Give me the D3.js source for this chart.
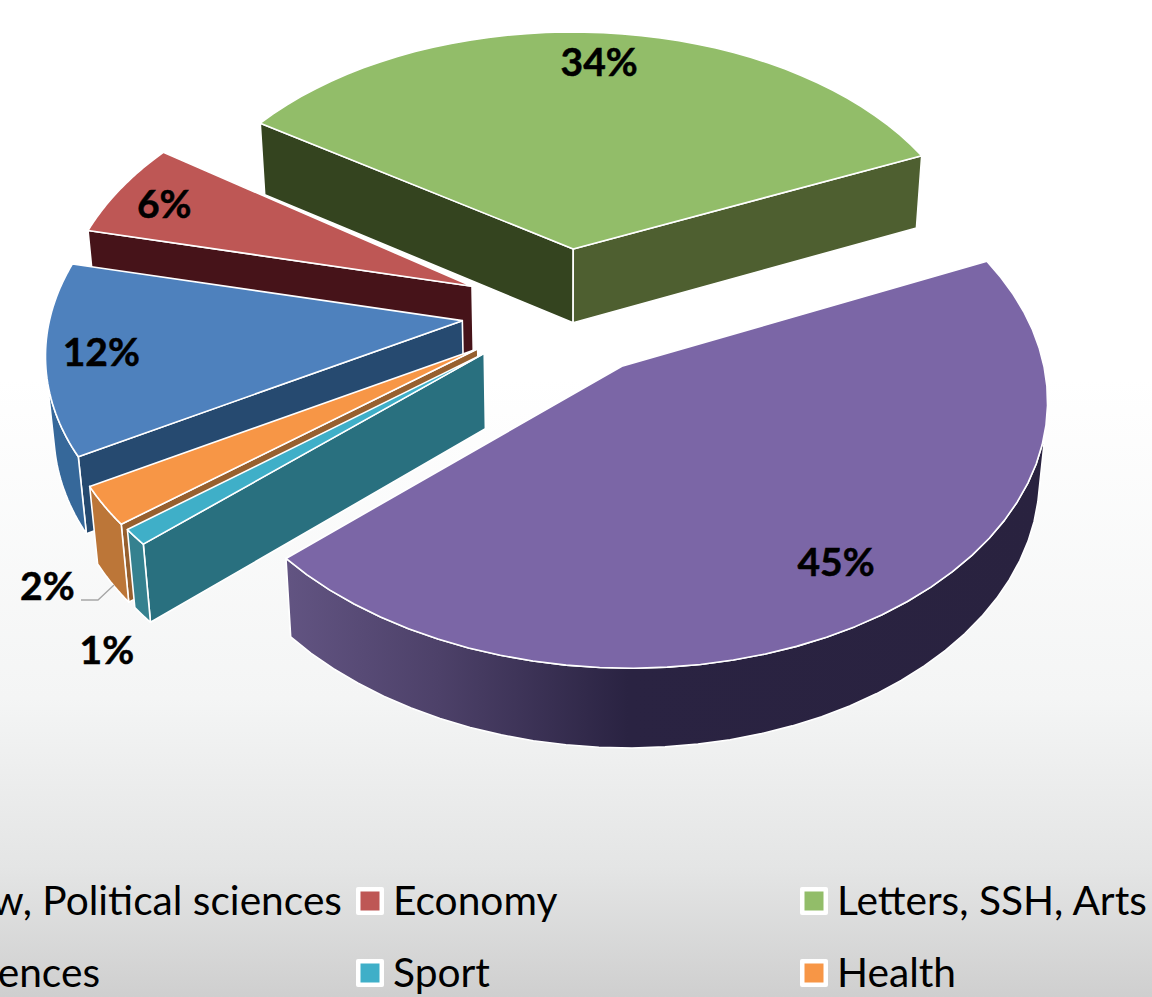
<!DOCTYPE html>
<html><head><meta charset="utf-8">
<style>html,body{margin:0;padding:0;background:#fff;overflow:hidden}svg{display:block}text{font-family:Lato,"Open Sans",sans-serif}</style>
<script src="https://cdn.jsdelivr.net/npm/d3@7/dist/d3.min.js"></script>
</head><body><svg id="c" width="1152" height="997"></svg>
<script>
const categories=["Law, Political sciences","Economy","Letters, SSH, Arts","Sciences","Sport","Health"];
const values=[12,6,34,45,1,2];
const labels=["12%","6%","34%","45%","1%","2%"];
const explosions=[0.245,0.245,0.225,0.285,0.235,0.235];
const topColors=["#4E81BD","#BE5755","#92BD69","#7B66A6","#3FAFC8","#F79646"];
const rimColors=["#36689A","#461319","#4E5F30","url(#rimPurple)","#35818F","#BC7638"];
const startCutColors=["#264A70","#461319","#34441F","#29223F","#29707F","#97602F"];
const endCutColors=["#264A70","#461319","#4E5F30","#29223F","#29707F","#97602F"];
const labelRadius=[0.89,0.82,0.87,0.86,1.43,1.38];
const labelTurn=[0,0,0,0,-9.6,-5];
const labelShiftX=[8,-12,4,-15,67,63];
const labelShiftY=[-2,0,6,-14,-21,-10];
const sliceTurn=[1.3,1.5,0.3,0,0,0];
const sliceSpread=[0,0,0,0.6,0,1.6];
const sliceRadius=[1,1,0.992,1,1,1];
const sliceShiftX=[-1,1,3,-7,-4,-5];
const sliceShiftY=[6,6,0.5,0,10,10];
const drawOrder=[2,1,0,5,4,3];
const legendRows=[0,0,0,1,1,1];
const legendColumns=[0,1,2,0,1,2];

const svg=d3.select("#c"), W=1152, H=997;
const defs=svg.append("defs");
const bg=defs.append("linearGradient").attr("id","bg").attr("x1",0).attr("y1",0).attr("x2",0).attr("y2",1);
[[0,"#ffffff"],[0.38,"#ffffff"],[0.7,"#f4f5f5"],[0.87,"#e4e5e5"],[1,"#cfcfcf"]].forEach(s=>bg.append("stop").attr("offset",s[0]).attr("stop-color",s[1]));
const rg=defs.append("linearGradient").attr("id","rimPurple").attr("x1",0).attr("y1",0).attr("x2",1).attr("y2",0);
[[0,"#625482"],[0.2,"#4D4169"],[0.45,"#2A2342"],[1,"#29223F"]].forEach(s=>rg.append("stop").attr("offset",s[0]).attr("stop-color",s[1]));
svg.append("rect").attr("width",W).attr("height",H).attr("fill","url(#bg)");

// Perspective plane: X to the right, Y toward the viewer, Z downward (all in pie radii / thickness units)
const cam={cx:563,cy:304,f:411,g:254,k:0.11,m:0.016,d:76};
function project(X,Y,Z){const w=1/(1-cam.k*Y+cam.m*Z);return [cam.cx+cam.f*X*w,cam.cy+(cam.g*Y+cam.d*Z)*w];}
const startDeg=238.6, rad=Math.PI/180;
const arcs=d3.pie().sort(null).startAngle(startDeg*rad).endAngle((startDeg+360)*rad)(values);
const poly=d3.line();
const area=p=>d3.polygonArea(p);
drawOrder.forEach(i=>{
  const g=svg.append("g").attr("transform",`translate(${sliceShiftX[i]},${sliceShiftY[i]})`);
  const a=arcs[i], mid=(a.startAngle+a.endAngle)/2, e=explosions[i], R=sliceRadius[i];
  const a0=a.startAngle+sliceTurn[i]*rad, a1=a.endAngle+(sliceTurn[i]+sliceSpread[i])*rad;
  const ox=e*Math.sin(mid), oy=-e*Math.cos(mid);
  const rimPt=(t,z)=>project(ox+R*Math.sin(t),oy-R*Math.cos(t),z);
  const apex=z=>project(ox,oy,z);
  const ts=d3.range(0,41).map(j=>a0+(a1-a0)*j/40);
  const face=(pts,fill)=>g.append("path").attr("d",poly(pts)+"Z").attr("fill",fill).attr("stroke","#fff").attr("stroke-width",1.6).attr("stroke-linejoin","round");
  // cut faces – only if they turn toward the viewer
  const s=[apex(0),rimPt(a0,0),rimPt(a0,1),apex(1)];
  const t=[rimPt(a1,0),apex(0),apex(1),rimPt(a1,1)];
  if(area(s)>0) face(s,startCutColors[i]);
  if(area(t)>0) face(t,endCutColors[i]);
  // rim – segments whose outer surface is visible
  const vis=[];
  for(let j=0;j<40;j++){
    const q=[rimPt(ts[j],0),rimPt(ts[j+1],0),rimPt(ts[j+1],1),rimPt(ts[j],1)];
    if(area(q)>0){ if(!vis.length) vis.push(ts[j]); vis.push(ts[j+1]); }
  }
  if(vis.length){ face(vis.map(v=>rimPt(v,0)).concat(vis.slice().reverse().map(v=>rimPt(v,1))),rimColors[i]); }
  face([apex(0)].concat(ts.map(v=>rimPt(v,0))),topColors[i]);
});
// data labels
arcs.forEach((a,i)=>{
  const mid=(a.startAngle+a.endAngle)/2,e=explosions[i],r=labelRadius[i],lt=mid+labelTurn[i]*rad;
  const p=project(e*Math.sin(mid)+r*Math.sin(lt),-e*Math.cos(mid)-r*Math.cos(lt),0);
  svg.append("text").attr("x",p[0]+labelShiftX[i]).attr("y",p[1]+labelShiftY[i]).attr("dy","0.35em").attr("text-anchor","middle")
    .attr("font-size",39).attr("font-weight",700).attr("fill","#000").attr("stroke","#000").attr("stroke-width",0.5).text(labels[i]);
});
// leader line of the "2%" label
svg.append("path").attr("d",poly([[81,600],[98,600],[114,585]])).attr("fill","none").attr("stroke","#a6a6a6").attr("stroke-width",1.3);
// legend
const colText=[342,393,837];
const yRow=d3.scalePoint().domain([0,1]).range([915,987]);
categories.forEach((c,i)=>{
  const col=legendColumns[i],row=legendRows[i],y=yRow(row);
  if(col>0){
    svg.append("rect").attr("x",colText[col]-37).attr("y",y-28).attr("width",28).attr("height",28).attr("rx",2).attr("fill","#fff");
    svg.append("rect").attr("x",colText[col]-32.5).attr("y",y-23.5).attr("width",19).attr("height",19).attr("fill",topColors[i]);
  }
  const t=svg.append("text").attr("y",y).attr("font-size",40.7).attr("fill","#000").text(c);
  if(col===0) t.attr("x",row===0?342:100).attr("text-anchor","end");
  else t.attr("x",colText[col]);
});
</script></body></html>
